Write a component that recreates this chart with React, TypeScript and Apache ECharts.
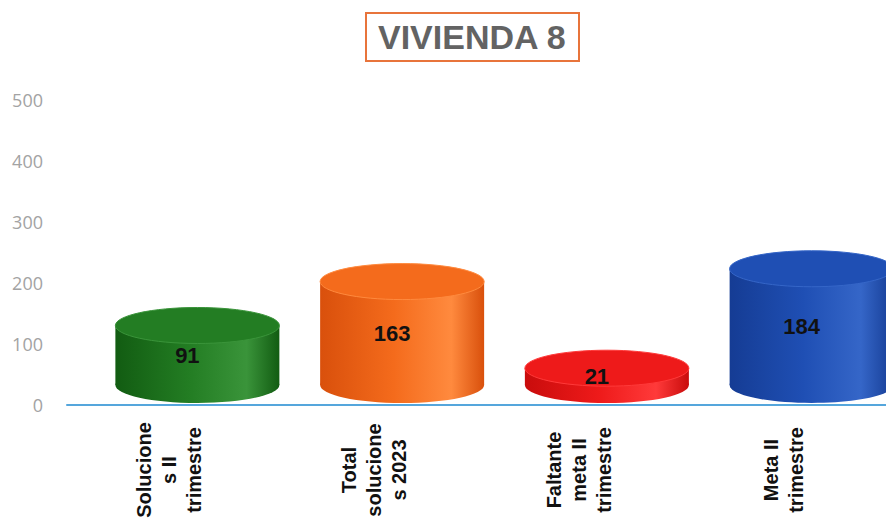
import React, { useEffect, useRef } from "react";
import * as echarts from "echarts";

const categories = [
  "Solucione\ns II\ntrimestre",
  "Total\nsolucione\ns 2023",
  "Faltante\nmeta II\ntrimestre",
  "Meta II\ntrimestre",
];
const values = [91, 163, 21, 184];
const barColors = ["#237d23", "#f46b1c", "#ee1a1a", "#1f4fb4"];
const darkColors = ["#125c12", "#d9500c", "#c90c0c", "#153c94"];
const lightColors = ["#3a943a", "#ff8a3e", "#ff3a3a", "#3566c8"];
const yTicks = { min: 0, max: 500, interval: 100 };

export default function App() {
  const ref = useRef<HTMLDivElement>(null);
  useEffect(() => {
    document.body.style.margin = "0";
    const chart = echarts.init(ref.current!, null, { renderer: "svg" });
    chart.setOption({
      animation: false,
      backgroundColor: "#ffffff",
      title: {
        text: "VIVIENDA 8",
        left: 366,
        top: 13,
        padding: [7, 12, 7, 12],
        borderColor: "#e8743b",
        borderWidth: 2,
        textStyle: {
          fontFamily: "Liberation Sans, Arial, sans-serif",
          fontSize: 34,
          fontWeight: "bold",
          color: "#636363",
        },
      },
      grid: { left: 67, right: 0, top: 100, bottom: 122, outerBoundsMode: "none" },
      xAxis: {
        type: "category",
        data: categories,
        axisLine: { show: true, lineStyle: { color: "#55a6dc", width: 2 } },
        axisTick: { show: false },
        axisLabel: {
          interval: 0,
          rotate: 90,
          align: "center",
          verticalAlign: "middle",
          margin: 65,
          lineHeight: 25,
          fontSize: 20,
          fontWeight: "bold",
          color: "#111111",
          fontFamily: "Liberation Sans, Arial, sans-serif",
        },
      },
      yAxis: {
        type: "value",
        min: yTicks.min,
        max: yTicks.max,
        interval: yTicks.interval,
        axisLine: { show: false },
        axisTick: { show: false },
        splitLine: { show: false },
        axisLabel: {
          margin: 24,
          fontSize: 18,
          color: "#a3a3a3",
          fontFamily: "Open Sans, sans-serif",
        },
      },
      series: [
        {
          type: "custom",
          data: values.map((v, i) => [i, v]),
          clip: false,
          renderItem: (params: any, api: any) => {
            const i = api.value(0);
            const v = api.value(1);
            const p = api.coord([i, v]);
            const base = api.coord([i, 0]);
            const cx = p[0] + 28;
            const rx = 82;
            const ry = 18;
            const topCy = p[1] - 24;
            const botCy = base[1] - 20;
            const grad = new echarts.graphic.LinearGradient(0, 0, 1, 0, [
              { offset: 0, color: darkColors[i] },
              { offset: 0.45, color: barColors[i] },
              { offset: 0.8, color: lightColors[i] },
              { offset: 1, color: darkColors[i] },
            ]);
            return {
              type: "group",
              children: [
                {
                  type: "ellipse",
                  shape: { cx, cy: botCy, rx, ry },
                  style: { fill: grad },
                },
                {
                  type: "rect",
                  shape: { x: cx - rx, y: topCy, width: rx * 2, height: Math.max(botCy - topCy, 0) },
                  style: { fill: grad },
                },
                {
                  type: "ellipse",
                  shape: { cx, cy: topCy, rx, ry },
                  style: { fill: barColors[i], stroke: lightColors[i], lineWidth: 1 },
                },
                {
                  type: "text",
                  style: {
                    x: cx - 10,
                    y: (topCy + botCy) / 2,
                    text: String(v),
                    align: "center",
                    verticalAlign: "middle",
                    fontSize: 22,
                    fontWeight: "bold",
                    fill: "#111111",
                    fontFamily: "Liberation Sans, Arial, sans-serif",
                  },
                },
              ],
            };
          },
        },
      ],
    });
    return () => chart.dispose();
  }, []);
  return <div ref={ref} style={{ width: 886, height: 527 }} />;
}
